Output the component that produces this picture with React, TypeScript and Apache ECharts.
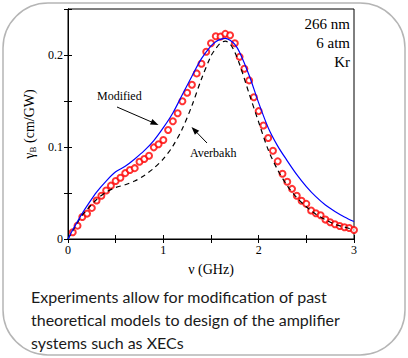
import React, { useEffect, useRef } from "react";
import * as echarts from "echarts";

// Frequency grid (GHz) of the theory curves
const modelFreq = [0, 0.05, 0.1, 0.15, 0.2, 0.3, 0.4, 0.5, 0.6, 0.7, 0.8, 0.9, 1.0, 1.1, 1.2, 1.3, 1.4, 1.5, 1.55, 1.6, 1.65, 1.7, 1.75, 1.8, 1.9, 2.0, 2.1, 2.2, 2.3, 2.4, 2.5, 2.6, 2.7, 2.8, 2.9, 3.0];
// "Modified" model (blue solid)
const modifiedGain = [0, 0.010, 0.019, 0.028, 0.036, 0.051, 0.063, 0.073, 0.079, 0.087, 0.096, 0.107, 0.121, 0.137, 0.157, 0.177, 0.196, 0.210, 0.2145, 0.217, 0.218, 0.216, 0.2115, 0.203, 0.178, 0.148, 0.121, 0.101, 0.085, 0.070, 0.057, 0.046, 0.037, 0.030, 0.024, 0.019];
// "Averbakh" model (black dashed)
const averbakhGain = [0, 0.009, 0.018, 0.026, 0.032, 0.043, 0.051, 0.056, 0.059, 0.063, 0.069, 0.077, 0.087, 0.101, 0.120, 0.145, 0.174, 0.199, 0.207, 0.213, 0.215, 0.212, 0.203, 0.190, 0.158, 0.127, 0.097, 0.075, 0.058, 0.045, 0.035, 0.027, 0.021, 0.016, 0.013, 0.010];
// Experimental points (red open circles)
const expFreq = [0.05, 0.1, 0.15, 0.2, 0.25, 0.3, 0.35, 0.4, 0.45, 0.5, 0.55, 0.6, 0.65, 0.7, 0.75, 0.8, 0.85, 0.9, 0.95, 1.0, 1.05, 1.1, 1.15, 1.2, 1.25, 1.3, 1.35, 1.4, 1.45, 1.5, 1.55, 1.6, 1.65, 1.7, 1.75, 1.8, 1.85, 1.9, 1.95, 2.0, 2.05, 2.1, 2.15, 2.2, 2.25, 2.3, 2.35, 2.4, 2.45, 2.5, 2.55, 2.6, 2.65, 2.7, 2.75, 2.8, 2.85, 2.9, 2.95, 3.0];
const expGain = [0.0073, 0.0145, 0.024, 0.0276, 0.0338, 0.0418, 0.047, 0.0527, 0.058, 0.063, 0.0665, 0.0716, 0.075, 0.077, 0.084, 0.087, 0.0905, 0.0996, 0.103, 0.1076, 0.1185, 0.128, 0.1367, 0.1498, 0.159, 0.1676, 0.180, 0.1905, 0.2036, 0.2127, 0.2204, 0.220, 0.223, 0.2215, 0.2127, 0.198, 0.185, 0.1724, 0.154, 0.139, 0.1233, 0.1098, 0.096, 0.0844, 0.0709, 0.0622, 0.0545, 0.047, 0.0415, 0.0382, 0.031, 0.028, 0.0258, 0.0211, 0.0182, 0.016, 0.0142, 0.0127, 0.012, 0.0098];

const conditionLines = ["266 nm", "6 atm", "Kr"];
const captionLines = [
  "Experiments allow for modification of past",
  "theoretical models to design of the amplifier",
  "systems such as XECs",
];

const SERIF = "'Liberation Serif', 'Times New Roman', serif";

function arrow(tail: number[], tip: number[]) {
  const dx = tip[0] - tail[0];
  const dy = tip[1] - tail[1];
  const len = Math.hypot(dx, dy);
  const ux = dx / len, uy = dy / len;
  const nx = -uy, ny = ux;
  const hl = 8, hw = 3;
  const bx = tip[0] - ux * hl, by = tip[1] - uy * hl;
  return [
    { type: "line", shape: { x1: tail[0], y1: tail[1], x2: bx + ux * 2, y2: by + uy * 2 }, style: { stroke: "#000", lineWidth: 1 } },
    { type: "polygon", shape: { points: [tip, [bx + nx * hw, by + ny * hw], [bx - nx * hw, by - ny * hw]] }, style: { fill: "#000" } },
  ];
}

export default function App() {
  const ref = useRef<HTMLDivElement>(null);
  useEffect(() => {
    document.body.style.margin = "0";
    const chart = echarts.init(ref.current!, null, { renderer: "svg" });
    const fmtX = (v: number) => (Math.abs(v - Math.round(v)) < 1e-6 ? String(Math.round(v)) : "");
    const fmtY = (v: number) => {
      const t = v * 10;
      if (Math.abs(t - Math.round(t)) > 1e-6) return "";
      const r = Math.round(t);
      return r === 0 ? "0" : (r / 10).toFixed(1);
    };
    const tickStyle = { show: true, inside: true, length: 4, lineStyle: { color: "#000", width: 1 } };
    const axisLine = { show: true, lineStyle: { color: "#000", width: 1 } };
    chart.setOption({
      animation: false,
      backgroundColor: "#fff",
      grid: { left: 68, right: 54, top: 9, bottom: 119, show: true, borderColor: "#000", borderWidth: 1 },
      xAxis: [
        {
          type: "value", min: 0, max: 3, interval: 0.5, position: "bottom",
          axisLine, axisTick: tickStyle, splitLine: { show: false },
          axisLabel: { formatter: fmtX, color: "#000", fontFamily: SERIF, fontSize: 12, margin: 5 },
          name: "ν (GHz)", nameLocation: "middle", nameGap: 23,
          nameTextStyle: { fontFamily: SERIF, fontSize: 14, color: "#000" },
        },
        {
          type: "value", min: 0, max: 3, interval: 0.5, position: "top",
          axisLine, axisTick: tickStyle, splitLine: { show: false }, axisLabel: { show: false },
        },
      ],
      yAxis: [
        {
          type: "value", min: 0, max: 0.25, interval: 0.05, position: "left",
          axisLine, axisTick: tickStyle, splitLine: { show: false },
          axisLabel: { formatter: fmtY, color: "#000", fontFamily: SERIF, fontSize: 12, margin: 5 },
          name: "γ{sub|B} (cm/GW)", nameLocation: "middle", nameGap: 24, nameRotate: 90,
          nameTextStyle: {
            fontFamily: SERIF, fontSize: 14, color: "#000",
            rich: { sub: { fontFamily: SERIF, fontSize: 9, color: "#000", verticalAlign: "bottom", padding: [6, 0, 0, 0] } },
          },
        },
        {
          type: "value", min: 0, max: 0.25, interval: 0.05, position: "right",
          axisLine, axisTick: tickStyle, splitLine: { show: false }, axisLabel: { show: false },
        },
      ],
      series: [
        {
          type: "line", name: "Averbakh", xAxisIndex: 0, yAxisIndex: 0, smooth: 0.3, showSymbol: false,
          data: modelFreq.map((f, i) => [f, averbakhGain[i]]),
          lineStyle: { color: "#000", width: 1.2, type: [5, 4] },
        },
        {
          type: "line", name: "Modified", xAxisIndex: 0, yAxisIndex: 0, smooth: 0.3, showSymbol: false,
          data: modelFreq.map((f, i) => [f, modifiedGain[i]]),
          lineStyle: { color: "#0000ff", width: 1.2 },
        },
        {
          type: "scatter", name: "Experiment", xAxisIndex: 0, yAxisIndex: 0,
          symbol: "emptyCircle", symbolSize: 6,
          data: expFreq.map((f, i) => [f, expGain[i]]),
          itemStyle: { color: "#ff0000", borderColor: "#ff0000", borderWidth: 1.6 },
        },
      ],
      graphic: [
        { type: "rect", shape: { x: 3, y: 3, width: 402, height: 352, r: 45 }, style: { fill: "none", stroke: "#b5b5b5", lineWidth: 1.5 }, z: -1 },
        ...conditionLines.map((t, i) => ({
          type: "text", x: 350, y: 24 + i * 19,
          style: { text: t, align: "right", verticalAlign: "middle", font: `15px ${SERIF}`, fill: "#000" },
        })),
        { type: "text", x: 97, y: 96, style: { text: "Modified", align: "left", verticalAlign: "middle", font: `12px ${SERIF}`, fill: "#000" } },
        { type: "text", x: 190, y: 153, style: { text: "Averbakh", align: "left", verticalAlign: "middle", font: `12px ${SERIF}`, fill: "#000" } },
        ...arrow([117, 107], [158.5, 125]),
        ...arrow([207, 143], [191.5, 127]),
        ...captionLines.map((t, i) => ({
          type: "text", x: 31, y: 296 + i * 23,
          style: { text: t, align: "left", verticalAlign: "middle", font: `16px Lato, 'Open Sans', sans-serif`, fill: "#1a1a1a" },
        })),
      ],
    });
    return () => chart.dispose();
  }, []);
  return <div ref={ref} style={{ width: 408, height: 358 }} />;
}
